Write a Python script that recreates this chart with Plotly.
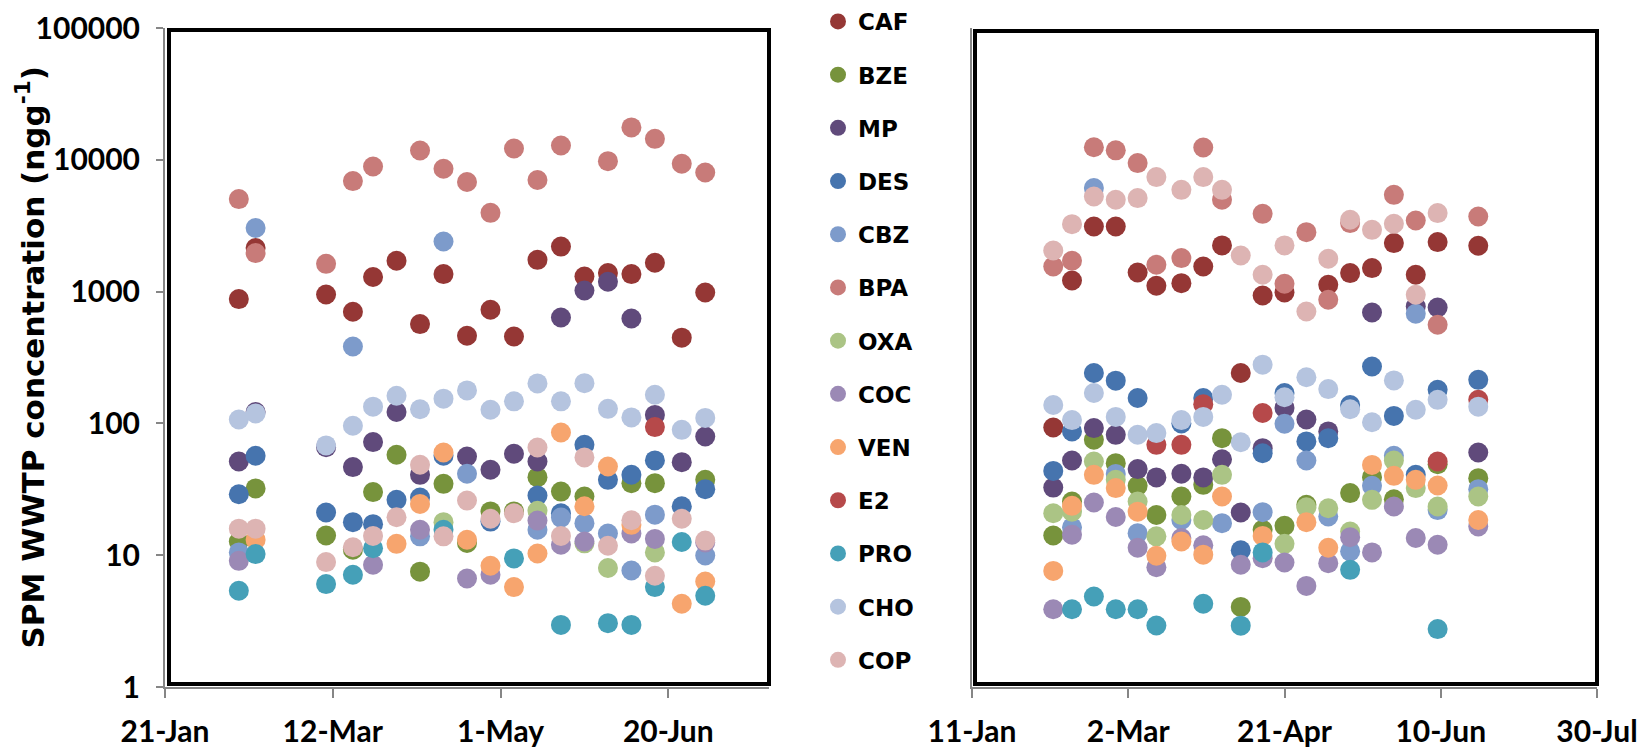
import plotly.graph_objects as go

# ---------------- data ----------------
left_dates = ["2014-02-12", "2014-02-17", "2014-03-10", "2014-03-18", "2014-03-24", "2014-03-31",
              "2014-04-07", "2014-04-14", "2014-04-21", "2014-04-28", "2014-05-05", "2014-05-12",
              "2014-05-19", "2014-05-26", "2014-06-02", "2014-06-09", "2014-06-16", "2014-06-24",
              "2014-07-01"]
right_dates = ["2015-02-06", "2015-02-12", "2015-02-19", "2015-02-26", "2015-03-05", "2015-03-11",
               "2015-03-19", "2015-03-26", "2015-04-01", "2015-04-07", "2015-04-14", "2015-04-21",
               "2015-04-28", "2015-05-05", "2015-05-12", "2015-05-19", "2015-05-26", "2015-06-02",
               "2015-06-09", "2015-06-22"]

series_names = ["CAF", "BZE", "MP", "DES", "CBZ", "BPA", "OXA", "COC", "VEN", "E2", "PRO", "CHO", "COP"]

CAF_L = [877, 2140, 951, 703, 1290, 1713, 567, 1358, 462, 728, 456, 1742, 2198, 1303, 1381, 1358, 1655, 447, 984]
BZE_L = [12.7, 32.1, 14.1, 11.0, 30.1, 57.8, 7.5, 34.8, 12.4, 21.5, 21.5, 39.1, 30.4, 27.9, None, 35.2, 35.2, None, 37.3]
MP_L = [51.4, 122, 66, 46.6, 72.1, 122, 40.7, None, 56.1, 44.5, 58.9, 51.4, 636, 1019, 1187, 625, 116, 50.8, 79.6]
DES_L = [29.0, 56.8, 21.1, 17.8, 17.2, 26.3, 27.4, 56.8, None, 18.0, None, 28.4, 20.8, 68.9, 37.3, 40.8, 52.4, 23.5, 31.7]
CBZ_L = [10.5, 3035, None, 383, None, None, 13.9, 2400, 41.5, None, None, 15.6, 19.3, 17.5, 14.6, 7.66, 20.3, None, 9.95]
BPA_L = [5035, 1960, 1625, 6890, 8890, None, 11770, 8550, 6780, 3960, 12190, 7020, 12840, None, 9770, 17600, 14430, 9330, 8010]
OXA_L = [None, None, None, None, None, None, None, 17.8, None, None, None, 21.7, None, 12.3, 8.0, None, 10.5, None, None]
COC_L = [9.06, None, None, None, 8.46, None, 15.6, None, 6.66, 7.1, None, 18.3, 12.0, 12.7, None, 14.6, 13.3, None, 12.5]
VEN_L = [None, 13.1, None, None, None, 12.2, 24.5, 60.1, 13.1, 8.32, 5.73, 10.3, 85.3, 23.5, 47.1, 17.0, None, 4.28, 6.32]
E2_L = [None, None, None, None, None, None, None, None, None, None, None, None, None, None, None, None, 93.7, None, None]
PRO_L = [5.37, 10.2, 6.04, 7.1, 11.3, None, None, 15.6, None, None, 9.46, None, 2.96, None, 3.05, 2.96, 5.73, 12.6, 4.92]
CHO_L = [107, 119, 68.1, 95.9, 134, 162, 128, 154, 178, 127, 147, 201, 147, 202, 129, 111, 165, 89.4, 110]
COP_L = [15.9, 15.9, 8.87, 11.5, 14.0, 19.4, 48.6, 13.9, 26.0, 18.9, 20.8, 65.6, 14.0, 55.2, 11.8, 18.4, 6.98, 18.9, 12.9]

CAF_R = [93, 1213, 3120, 3120, 1396, 1107, 1159, 1550, 2240, 241, 934, 984, None, 1127, 1381, 1508, 2334, 1342, 2375, 2228]
BZE_R = [14.1, 25.5, 75.1, 49.9, 33.6, 20.2, 27.9, 34.2, 77.3, 4.05, 15.6, 16.7, 24.1, None, 29.6, 39.1, 26.6, None, 49, 38.4]
MP_R = [32.6, 52.3, 92.1, 81.9, 45, 38.9, 41.5, 38.9, 53.5, 21.1, 64.9, 131, 107, 86.9, None, 694, None, 771, 758, 60.1]
DES_R = [43.6, 86.9, 241, 211, 156, None, 100, 156, None, 10.9, 59.4, 170, 73, 77.3, 138, 270, 114, 40.8, 180, 214]
CBZ_R = [None, 16.3, 6100, 41.4, 14.7, None, 18.5, None, 17.5, None, 21.2, 99.3, 52.3, 19.7, 10.7, 33.6, 56.8, 679, 22, 31.7]
BPA_R = [1550, 1713, 12450, 11800, 9440, 1597, 1795, 12400, 4975, None, 3890, 1146, 2825, 867, 3310, None, 5420, 3465, 560, 3715]
OXA_R = [20.8, 21.4, 51.4, 37.3, 25.5, 13.9, 20.2, 18.5, 40.7, None, None, 12.2, 23.1, 22.7, 15.1, 26.3, 52.3, 32.3, 23.4, 27.9]
COC_R = [3.89, 14.3, 25.1, 19.5, 11.4, 8.1, 13.5, 11.9, None, 8.46, 9.5, 8.8, 5.85, 8.7, 13.7, 10.5, 23.4, 13.5, 12.0, 16.5]
VEN_R = [7.6, 23.7, 40.7, 32.3, 21.4, 9.9, 12.7, 10.1, 27.9, None, 14.0, None, 17.8, 11.4, None, 48.4, 40, 37.3, 33.8, 18.5]
E2_R = [None, None, None, None, None, 68.8, 68.8, 140, None, None, 120, None, None, None, None, None, None, None, 51.4, 151]
PRO_R = [None, 3.89, 4.86, 3.89, 3.89, 2.93, None, 4.28, None, 2.92, 10.5, None, None, None, 7.74, None, None, None, 2.75, None]
CHO_R = [138, 106, 170, 112, 82, 84.4, 106, 112, 165, 72, 279, 158, 224, 182, 128, 102, 212, 127, 151, 134]
COP_R = [2050, 3250, 5270, 4975, 5120, 7390, 5920, 7390, 5920, 1880, 1342, 2240, 706, 1774, 3507, 2943, 3270, 946, 3944, None]

left_values = [CAF_L, BZE_L, MP_L, DES_L, CBZ_L, BPA_L, OXA_L, COC_L, VEN_L, E2_L, PRO_L, CHO_L, COP_L]
right_values = [CAF_R, BZE_R, MP_R, DES_R, CBZ_R, BPA_R, OXA_R, COC_R, VEN_R, E2_R, PRO_R, CHO_R, COP_R]

colors = ["#953735", "#77933C", "#604A7B", "#4674AE", "#7D9BCB", "#C87B79", "#ABC485",
          "#9B89B5", "#F7A56E", "#B6494A", "#45A0B8", "#B5C4DF", "#DDB4B3"]

y_tickvals = [1, 10, 100, 1000, 10000, 100000]
y_ticktext = ["1", "10", "100", "1000", "10000", "100000"]
left_tickvals = ["2014-01-21", "2014-03-12", "2014-05-01", "2014-06-20"]
left_ticktext = ["21-Jan", "12-Mar", "1-May", "20-Jun"]
right_tickvals = ["2015-01-11", "2015-03-02", "2015-04-21", "2015-06-10", "2015-07-30"]
right_ticktext = ["11-Jan", "2-Mar", "21-Apr", "10-Jun", "30-Jul"]

# ---------------- figure ----------------
W, H = 1640, 749
fig = go.Figure()

for name, vals, col in zip(series_names, left_values, colors):
    fig.add_trace(go.Scatter(x=left_dates, y=vals, mode="markers", name=name, legendgroup=name,
                             marker=dict(size=20, color=col, line=dict(width=0)),
                             xaxis="x", yaxis="y", showlegend=True))
for name, vals, col in zip(series_names, right_values, colors):
    fig.add_trace(go.Scatter(x=right_dates, y=vals, mode="markers", name=name, legendgroup=name,
                             marker=dict(size=20, color=col, line=dict(width=0)),
                             xaxis="x2", yaxis="y2", showlegend=False))

ydom = [1 - 687 / H, 1 - 28 / H]
tick_font = dict(family="Lato", size=30, color="black", weight="bold")
axis_gray = "#868686"

fig.update_layout(
    width=W, height=H,
    margin=dict(l=0, r=0, t=0, b=0, autoexpand=False),
    paper_bgcolor="white", plot_bgcolor="white",
    xaxis=dict(type="date", domain=[165 / W, 769 / W], range=["2014-01-21", "2014-07-20"],
               anchor="y", tickvals=left_tickvals, ticktext=left_ticktext, tickfont=tick_font,
               showgrid=False, zeroline=False, showline=True, linecolor=axis_gray, linewidth=2,
               ticks="outside", ticklen=9, tickwidth=2, tickcolor=axis_gray, ticklabelstandoff=8,
               automargin=False),
    yaxis=dict(type="log", domain=ydom, range=[0, 5], anchor="x",
               tickvals=y_tickvals, ticktext=y_ticktext, tickfont=tick_font,
               showgrid=False, zeroline=False, showline=True, linecolor=axis_gray, linewidth=2,
               ticks="outside", ticklen=7, tickwidth=2, tickcolor=axis_gray, ticklabelstandoff=10,
               automargin=False),
    xaxis2=dict(type="date", domain=[972 / W, 1597 / W], range=["2015-01-11", "2015-07-30"],
                anchor="y2", tickvals=right_tickvals, ticktext=right_ticktext, tickfont=tick_font,
                showgrid=False, zeroline=False, showline=True, linecolor=axis_gray, linewidth=2,
                ticks="outside", ticklen=9, tickwidth=2, tickcolor=axis_gray, ticklabelstandoff=8,
                automargin=False),
    yaxis2=dict(type="log", domain=ydom, range=[0, 5], anchor="x2", showticklabels=False,
                showgrid=False, zeroline=False, showline=True, linecolor=axis_gray, linewidth=2,
                ticks="", automargin=False),
    legend=dict(x=818 / W, xanchor="left", y=1, yanchor="top",
                font=dict(family="DejaVu Sans", size=23, color="black", weight="bold"),
                tracegroupgap=20.3, bgcolor="rgba(0,0,0,0)", itemwidth=30),
    annotations=[dict(text="SPM WWTP concentration (ngg<sup>-1</sup>)", textangle=-90,
                      x=31 / W, y=1 - 357.5 / H, xref="paper", yref="paper",
                      xanchor="center", yanchor="middle", showarrow=False,
                      font=dict(family="DejaVu Sans", size=31, color="black", weight="bold"))],
    shapes=[
        dict(type="rect", xref="paper", yref="paper", x0=169 / W, x1=769 / W,
             y0=1 - 684 / H, y1=1 - 30 / H, line=dict(color="black", width=4), layer="above"),
        dict(type="rect", xref="paper", yref="paper", x0=975 / W, x1=1597 / W,
             y0=1 - 684 / H, y1=1 - 31 / H, line=dict(color="black", width=4), layer="above"),
    ],
)

fig.write_html("out.html")
